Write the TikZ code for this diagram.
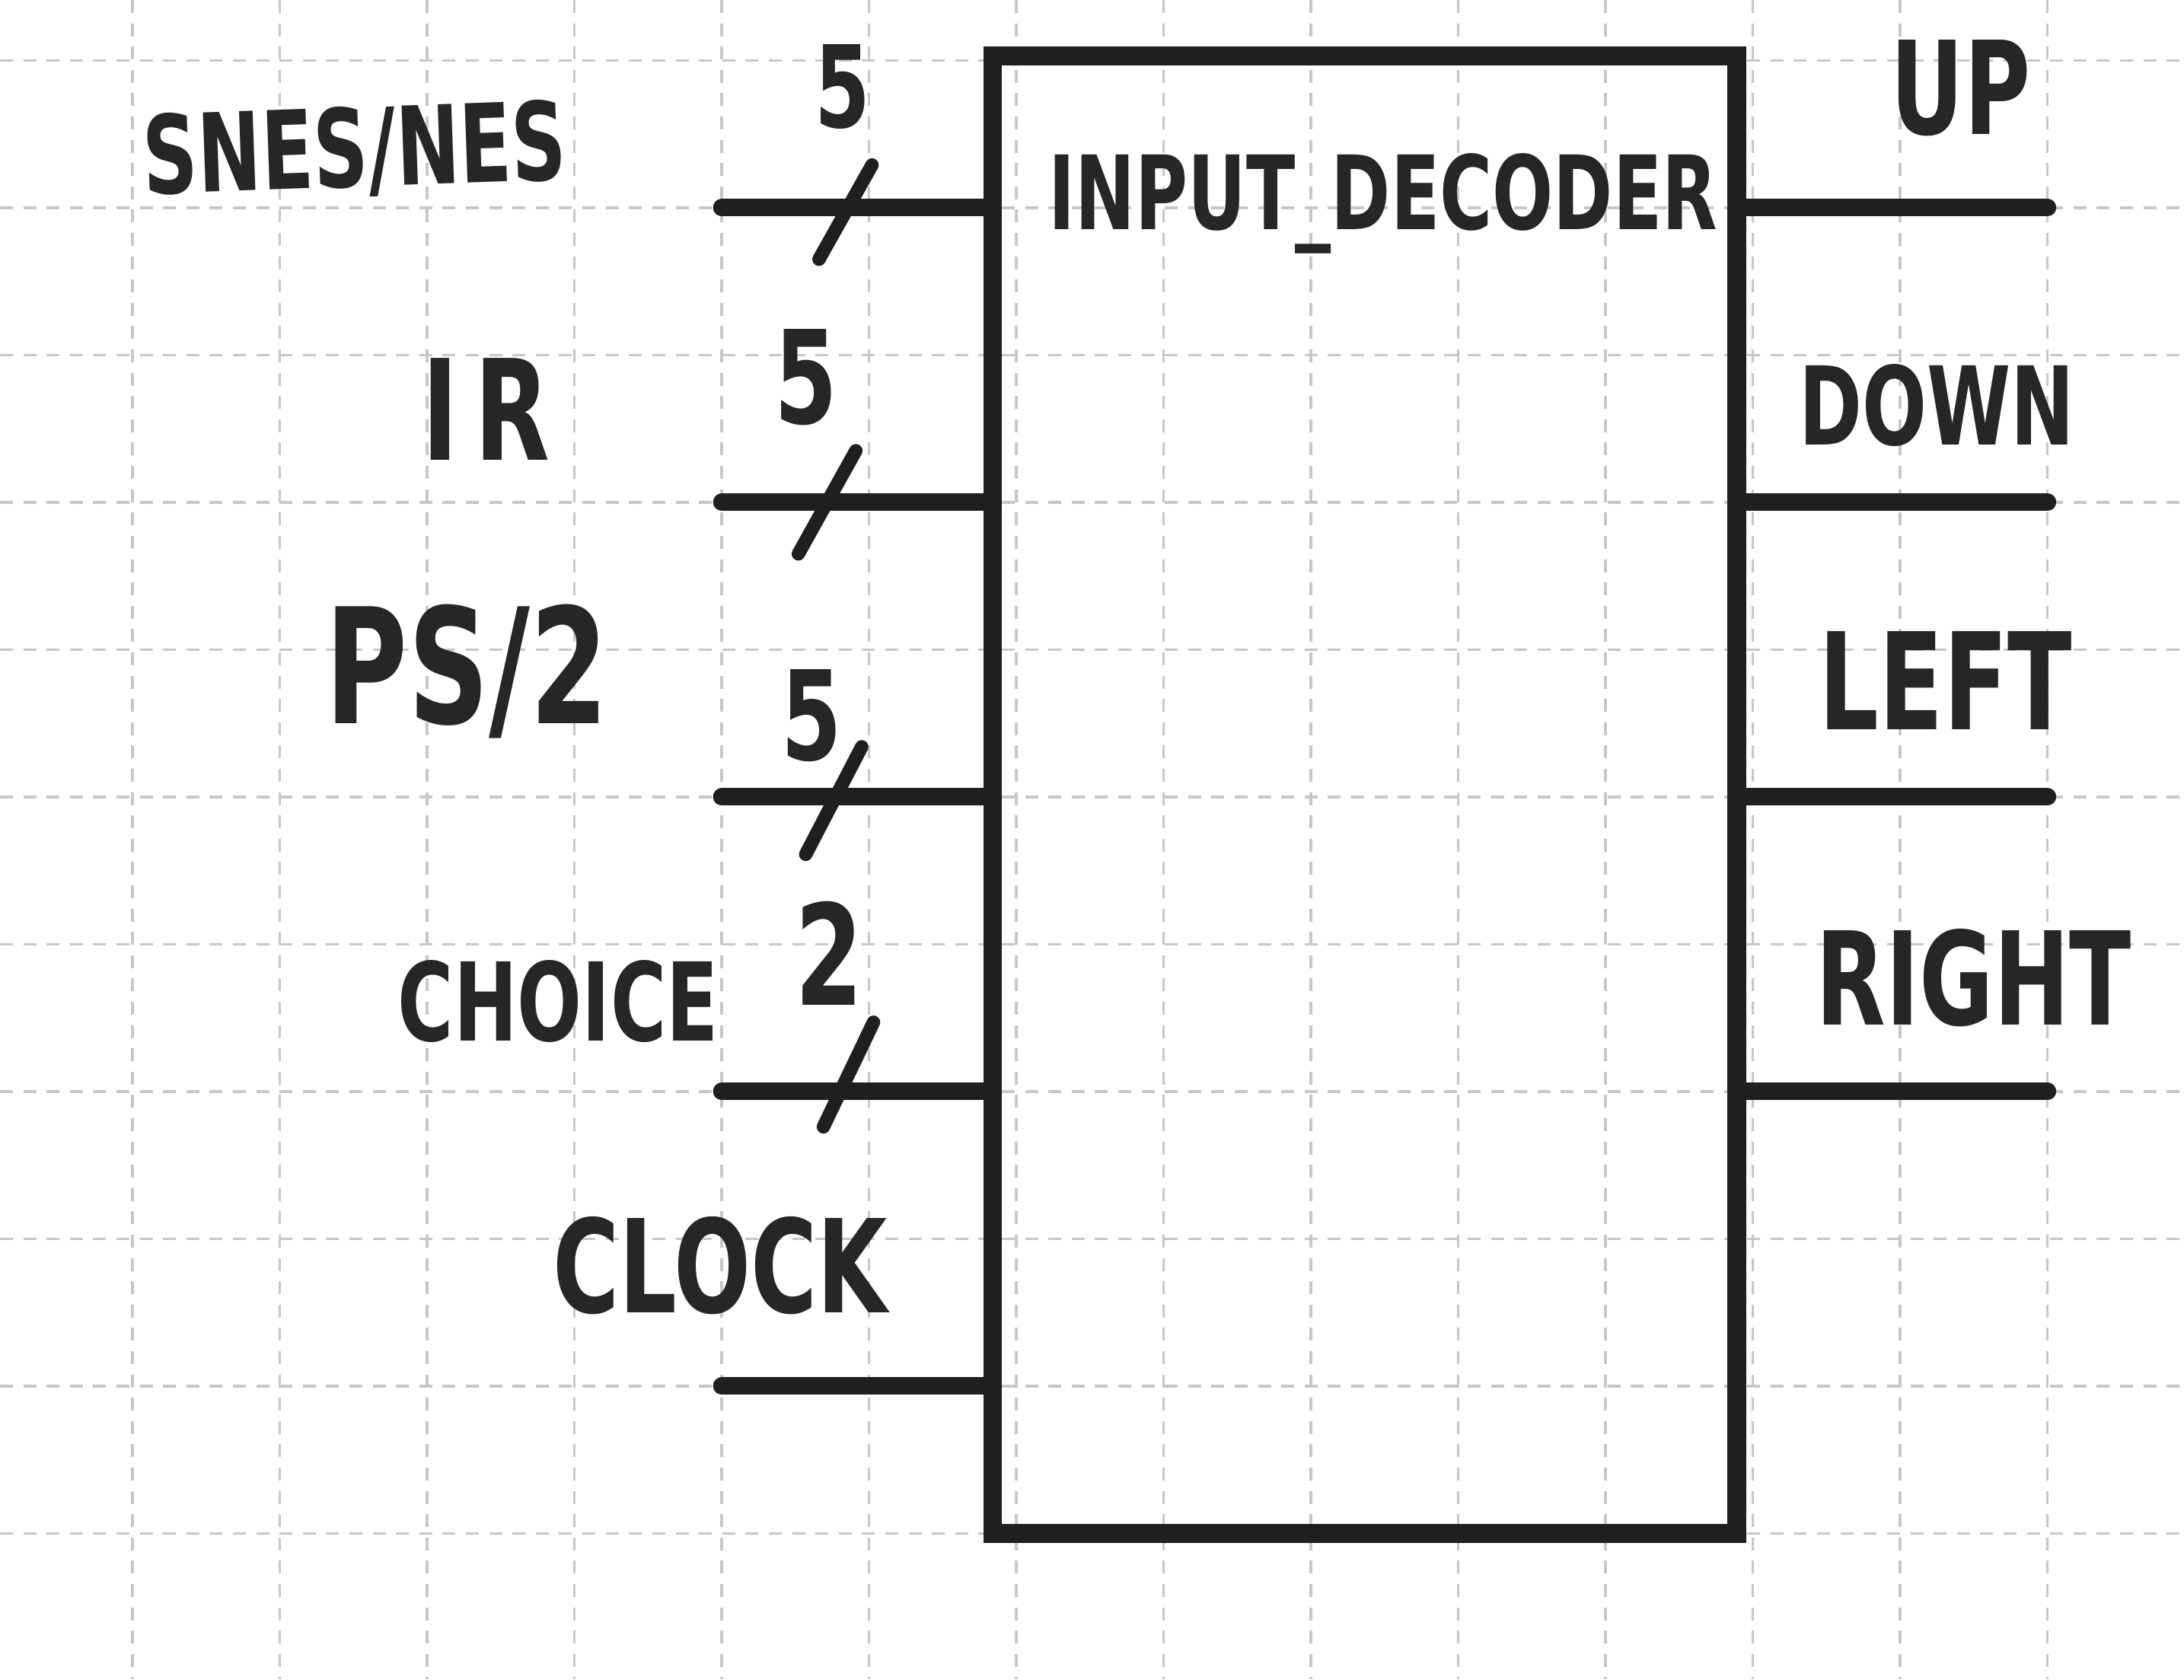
\documentclass[tikz,border=0pt]{standalone}
\usepackage{fontspec}
\newfontfamily\handfont[FakeStretch=0.7]{DejaVu Sans}
\usepackage{tikz}
\usetikzlibrary{positioning,calc}
\tikzset{
  idgrid/.style={draw=black!22, line width=0.5pt, dash pattern=on 2.5pt off 2pt},
  idbox/.style={draw=black!88, line width=3.6pt, minimum width=5.05cm, minimum height=10.03cm, inner sep=0pt},
  idwire/.style={draw=black!88, line width=3.4pt, line cap=round},
  idbus/.style={draw=black!88, line width=2.6pt, line cap=round},
  idlabel/.style={text=black!85, inner sep=0pt, font=\handfont\bfseries\fontsize{#1}{#1}\selectfont}
}

\begin{document}
\begin{tikzpicture}[x=1cm, y=-1cm]
  \useasboundingbox (0,0) rectangle (14.827,11.401);
  % squared paper
  \foreach \gx in {0,...,13}
    \draw[idgrid] (0.9+\gx,0) -- (0.9+\gx,11.401);
  \foreach \gy in {0,...,10}
    \draw[idgrid] (0,0.41+\gy) -- (14.827,0.41+\gy);

  % the block
  \node[idbox] (dec) at (9.265,5.395) {};
  \node[idlabel=19.8] (title) at (9.39,1.38) {INPUT\_DECODER};

  % inputs
  \coordinate (snes) at (4.9,1.41);
  \coordinate (ir) at (4.9,3.41);
  \coordinate (ps) at (4.9,5.41);
  \coordinate (choice) at (4.9,7.41);
  \coordinate (clock) at (4.9,9.41);
  \draw[idwire] (snes) -- (snes -| dec.west);
  \draw[idwire] (ir) -- (ir -| dec.west);
  \draw[idwire] (ps) -- (ps -| dec.west);
  \draw[idwire] (choice) -- (choice -| dec.west);
  \draw[idwire] (clock) -- (clock -| dec.west);

  \node[idlabel=21, rotate=2] (lsnes) at (2.41,1.03) {SNES/NES};
  \node[idlabel=27] (lir) at (3.30,2.78) {I\kern3ptR};
  \node[idlabel=31] (lps) at (3.17,4.56) {PS/2};
  \node[idlabel=21] (lchoice) at (3.79,6.80) {CHOICE};
  \node[idlabel=25] (lclock) at (4.89,8.59) {CLOCK};

  % bus widths
  \node[idlabel=22] (wsnes) at (5.72,0.59) {5};
  \node[idlabel=25] (wir) at (5.47,2.56) {5};
  \node[idlabel=24] (wps) at (5.51,4.86) {5};
  \node[idlabel=27] (wchoice) at (5.63,6.47) {2};
  \draw[idbus] ($(snes)+(1.02,-0.29)$) -- ++(-0.36,0.64);
  \draw[idbus] ($(ir)+(0.91,-0.35)$) -- ++(-0.39,0.70);
  \draw[idbus] ($(ps)+(0.95,-0.34)$) -- ++(-0.38,0.73);
  \draw[idbus] ($(choice)+(1.03,-0.47)$) -- ++(-0.34,0.71);

  % outputs
  \coordinate (up) at (13.9,1.41);
  \coordinate (down) at (13.9,3.41);
  \coordinate (left) at (13.9,5.41);
  \coordinate (right) at (13.9,7.41);
  \draw[idwire] (up -| dec.east) -- (up);
  \draw[idwire] (down -| dec.east) -- (down);
  \draw[idwire] (left -| dec.east) -- (left);
  \draw[idwire] (right -| dec.east) -- (right);

  \node[idlabel=25] (lup) at (13.31,0.60) {UP};
  \node[idlabel=21] (ldown) at (13.15,2.75) {DOWN};
  \node[idlabel=26] (lleft) at (13.21,4.62) {LEFT};
  \node[idlabel=25] (lright) at (13.40,6.64) {RIGHT};
\end{tikzpicture}
\end{document}
